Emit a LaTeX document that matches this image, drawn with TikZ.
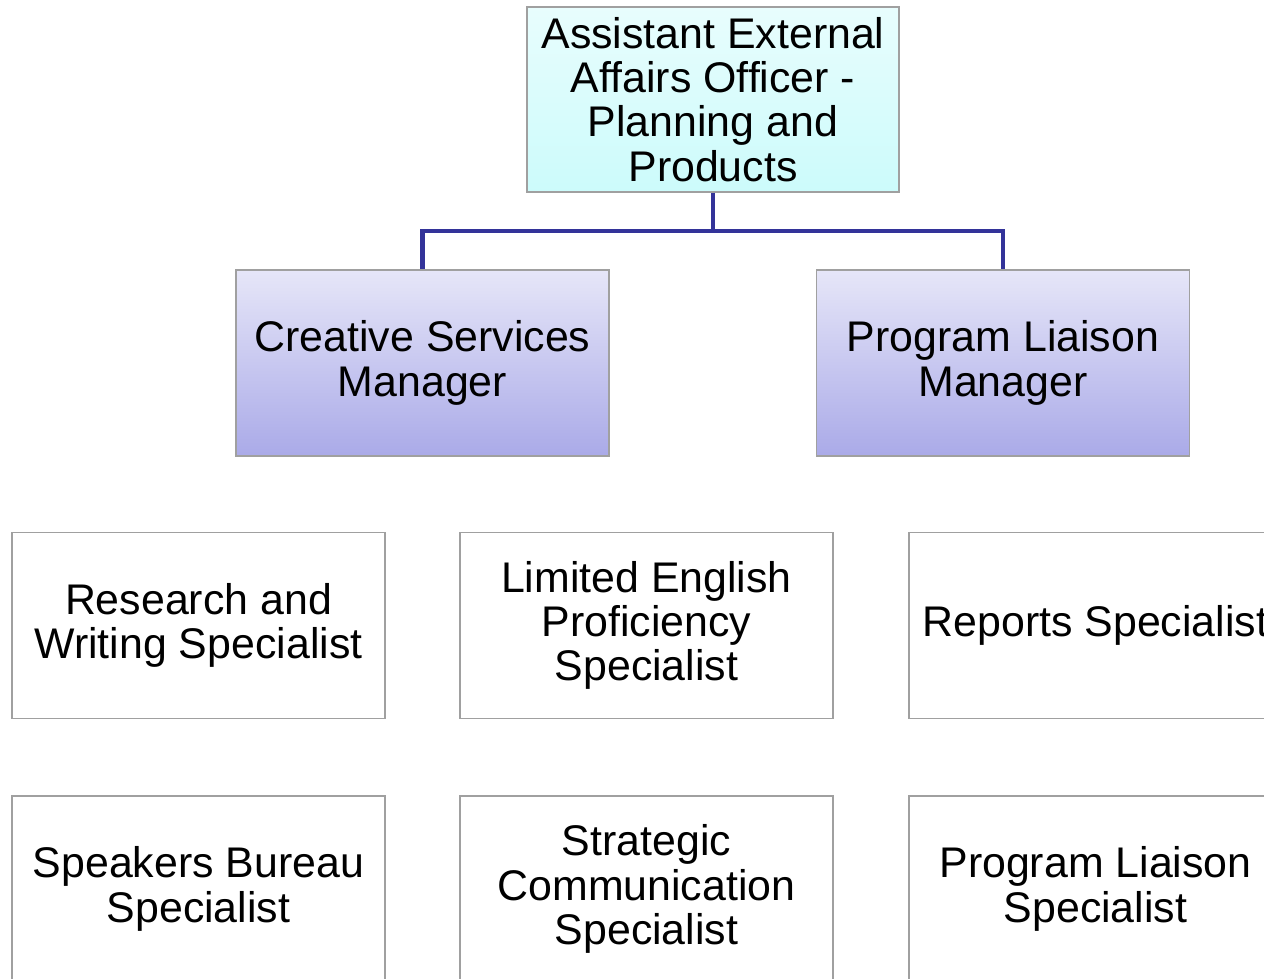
\documentclass[tikz,border=0pt]{standalone}
\usepackage{fontspec}
\setmainfont{Liberation Sans}
\definecolor{linkblue}{RGB}{51,51,153}
\definecolor{boxgray}{RGB}{160,160,160}
\definecolor{cyantop}{RGB}{232,253,253}
\definecolor{cyanbot}{RGB}{204,251,251}
\definecolor{mgrtop}{RGB}{230,230,248}
\definecolor{mgrbot}{RGB}{170,170,232}
\tikzset{
	post/.style={draw=boxgray, line width=0.7pt, minimum width=7.46cm, minimum height=3.72cm,
			inner sep=0pt, align=center, font=\fontsize{24.4}{25.2}\selectfont},
	chief/.style={post, minimum width=7.44cm, minimum height=3.7cm, top color=cyantop, bottom color=cyanbot},
	manager/.style={post, top color=mgrtop, bottom color=mgrbot},
	staff/.style={post, fill=white},
	link/.style={draw=linkblue, line width=2.3pt}
}
\begin{document}
\begin{tikzpicture}[x=0.02cm, y=-0.02cm]
	\useasboundingbox (0,0) rectangle (1264,979);
	\clip (0,0) rectangle (1264,979);
	\fill[white] (0,0) rectangle (1264,979);
	% top of the chart
	\node[chief] (aeao) at (713,99.5) {Assistant External\\Affairs Officer -\\Planning and\\Products};
	\node[manager] (creative) at (422.5,363) {Creative Services\\Manager};
	\node[manager] (liaison) at (1003,363) {Program Liaison\\Manager};
	\coordinate (bus) at (713,231);
	\draw[link] (aeao.south) -- (bus) -| (creative.north);
	\draw[link] (bus) -| (liaison.north);
	% specialists
	\foreach \x/\name/\txt in {198.5/research/{Research and\\Writing Specialist},
			646.5/lep/{Limited English\\Proficiency\\Specialist},
			1095.5/reports/{Reports Specialist}} {
			\node[staff] (\name) at (\x,625.5) {\txt};
		}
	\foreach \x/\name/\txt in {198.5/speakers/{Speakers Bureau\\Specialist},
			646.5/stratcom/{Strategic\\Communication\\Specialist},
			1095.5/plspec/{Program Liaison\\Specialist}} {
			\node[staff] (\name) at (\x,889) {\txt};
		}
\end{tikzpicture}
\end{document}
